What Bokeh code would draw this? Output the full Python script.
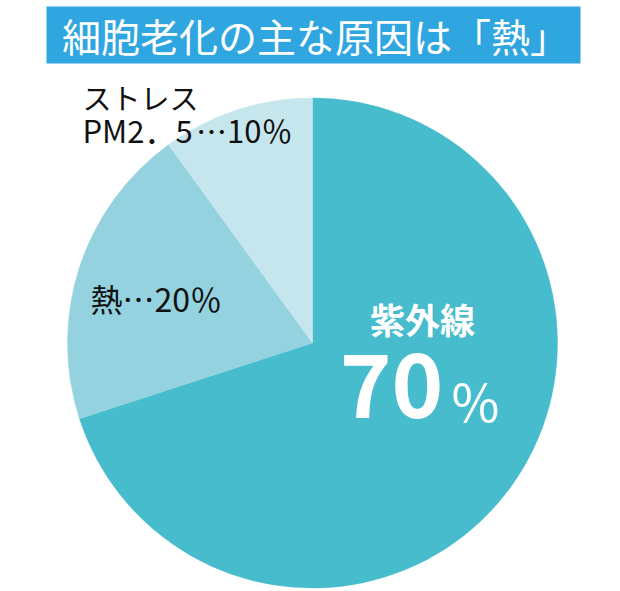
from math import pi
from bokeh.plotting import figure
from bokeh.models import ColumnDataSource, Range1d
from bokeh.core.properties import value
from bokeh.embed import file_html
from bokeh.resources import INLINE

TITLE = "細胞老化の主な原因は「熱」"
causes = ["紫外線", "熱", "ストレス PM2．5"]
shares = [70, 20, 10]
colors = ["#47bccc", "#94d2df", "#c6e6ed"]

W, H = 620, 591          # figure size
FONT = value("Noto Sans CJK JP")


def sy(y):
    # screen y (in the 620x591 window) -> data y
    return H - y


# wedge angles, clockwise from 12 o'clock
total = sum(shares)
starts, ends = [], []
acc = 0
for s in shares:
    starts.append(pi / 2 - 2 * pi * acc / total)
    acc += s
    ends.append(pi / 2 - 2 * pi * acc / total)

source = ColumnDataSource(dict(cause=causes, share=shares, color=colors,
                               start=starts, end=ends))

p = figure(width=W, height=H, output_backend="svg", toolbar_location=None,
           x_range=Range1d(0, W), y_range=Range1d(0, H), min_border=0)
p.axis.visible = False
p.grid.visible = False
p.outline_line_color = None
p.background_fill_color = "white"
p.border_fill_color = "white"

# title banner
p.quad(left=46, right=580, top=sy(6), bottom=sy(63),
       fill_color="#2fa6df", line_color=None)
p.text(x=[315], y=[sy(34.5)], text=[TITLE], text_color="white",
       text_font=FONT, text_font_size="39px",
       text_align="center", text_baseline="middle")

# pie
p.wedge(x=312, y=sy(342.5), radius=245, start_angle="start", end_angle="end",
        direction="clock", fill_color="color", line_color="color",
        line_width=0.5, source=source)

# labels
label_style = dict(text_color="#111111", text_font=FONT, text_baseline="middle")
p.text(x=[82], y=[sy(96)], text=["ストレス"], text_font_size="29px",
       text_align="left", **label_style)
# the PM2.5 line is split so the ellipsis gets the centred CJK glyph
p.text(x=[82], y=[sy(128.5)], text=["PM2．5"], text_font_size="31px",
       text_align="left", **label_style)
p.text(x=[292], y=[sy(128.5)], text=[f"…{shares[2]}％"], text_font_size="31px",
       text_align="right", **label_style)
p.text(x=[90], y=[sy(297)], text=[f"{causes[1]}…{shares[1]}％"],
       text_font_size="32px", text_align="left", **label_style)

p.text(x=[422], y=[sy(317.5)], text=[causes[0]], text_color="white",
       text_font=FONT, text_font_size="35px", text_font_style="bold",
       text_align="center", text_baseline="middle")
p.text(x=[443], y=[sy(385)], text=[str(shares[0])], text_color="white",
       text_font=FONT, text_font_size="88px", text_font_style="bold",
       text_align="right", text_baseline="middle")
p.text(x=[451], y=[sy(399)], text=["%"], text_color="white",
       text_font=FONT, text_font_size="52px",
       text_align="left", text_baseline="middle")

open("out.html", "w").write(file_html(p, INLINE))
